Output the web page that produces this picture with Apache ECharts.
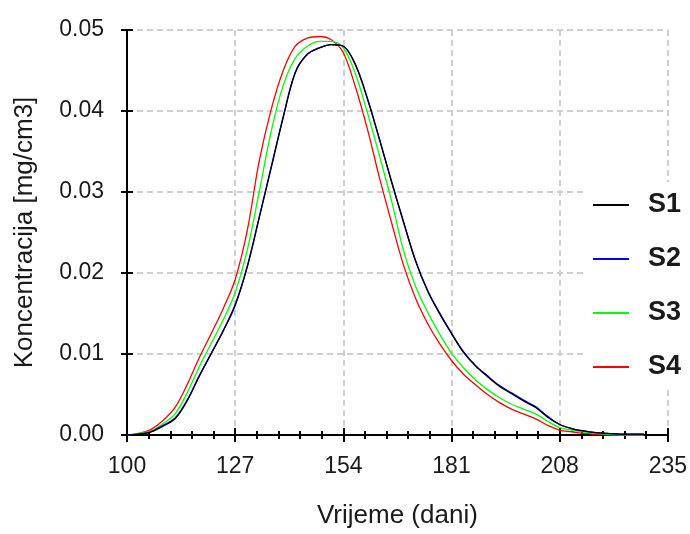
<!DOCTYPE html>
<html>
<head>
<meta charset="utf-8">
<script src="https://cdn.jsdelivr.net/npm/echarts@6/dist/echarts.min.js"></script>
<style>html,body{margin:0;padding:0;background:#fff;}#c{width:690px;height:534px;}</style>
</head>
<body>
<div id="c"></div>
<script>
var days = [100,103,106,109,112,115,118,121,124,127,130,133,136,139,142,145,148,151,154,157,160,163,166,169,172,175,178,181,184,187,190,193,196,199,202,205,208,211,214,217,220,223,226,229];
var s1 = [0,0.0001,0.0004,0.0011,0.0020,0.0042,0.0072,0.0100,0.0128,0.0160,0.0207,0.0268,0.0330,0.0392,0.0447,0.0470,0.0478,0.0482,0.0480,0.0457,0.0415,0.0365,0.0313,0.0263,0.0215,0.0178,0.0150,0.0125,0.0102,0.0085,0.0072,0.0060,0.0051,0.0042,0.0034,0.0022,0.0013,0.0008,0.0005,0.0003,0.0002,0.0001,0.0001,0.0001];
var s2 = [0,0.0001,0.0004,0.0012,0.0021,0.0043,0.0073,0.0101,0.0129,0.0161,0.0208,0.0269,0.0331,0.0393,0.0448,0.0470,0.0478,0.0482,0.0480,0.0458,0.0416,0.0366,0.0314,0.0264,0.0216,0.0179,0.0151,0.0126,0.0103,0.0086,0.0073,0.0061,0.0052,0.0043,0.0035,0.0023,0.0013,0.0008,0.0005,0.0003,0.0002,0.0001,0.0001,0.0001];
var s3 = [0,0.0002,0.0005,0.0014,0.0026,0.0052,0.0084,0.0113,0.0142,0.0176,0.0228,0.0300,0.0375,0.0432,0.0465,0.0480,0.0486,0.0486,0.0478,0.0446,0.0398,0.0345,0.0290,0.0228,0.0184,0.0152,0.0125,0.0101,0.0083,0.0068,0.0056,0.0046,0.0038,0.0032,0.0026,0.0017,0.0009,0.0006,0.0004,0.0002,0.0001,0,0,0];
var s4 = [0,0.0002,0.0007,0.0018,0.0034,0.0062,0.0095,0.0125,0.0156,0.0192,0.0252,0.0338,0.0402,0.0450,0.0480,0.0490,0.0492,0.0488,0.0472,0.0430,0.0378,0.0318,0.0263,0.0210,0.0169,0.0138,0.0113,0.0092,0.0075,0.0062,0.0050,0.0040,0.0032,0.0026,0.0020,0.0012,0.0006,0.0004,0.0002,0.0001,0,0,0,0];
var seriesNames = ['S1','S2','S3','S4'];
var seriesColors = ['#000000','#0000ff','#00ff00','#ff0000'];
var xStart = 100, xEnd = 235, xStep = 27;

var chart = echarts.init(document.getElementById('c'));
function pts(vals){ return days.map(function(d,i){ return [d - xStart, vals[i]]; }); }
var allVals = [s1,s2,s3,s4];
var font = 'Liberation Sans, Arial, sans-serif';
var gridLine = {show:true, lineStyle:{color:'#cfcfcf', width:2, type:[6,4]}};
var xBase = {type:'value', min:0, max:xEnd-xStart, interval:xStep, position:'bottom'};
var yBase = {type:'value', min:0, max:0.05, interval:0.01, position:'left'};
var series = [];
[3,2,1,0].forEach(function(k){
  series.push({
    name: seriesNames[k], type:'line', data: pts(allVals[k]), showSymbol:false, symbol:'none',
    smooth:0.35, lineStyle:{color:seriesColors[k], width:1.3}, itemStyle:{color:seriesColors[k]},
    xAxisIndex:0, yAxisIndex:0, z: 3 + (3-k)
  });
});
chart.setOption({
  animation:false,
  backgroundColor:'#fff',
  grid:{left:127, right:22, top:30, bottom:98, containLabel:false},
  xAxis:[
    Object.assign({}, xBase, {
      name:'Vrijeme (dani)', nameLocation:'middle', nameGap:68,
      nameTextStyle:{fontSize:26, color:'#1a1a1a', fontFamily:font},
      axisLine:{show:true, lineStyle:{color:'#000', width:2}},
      axisTick:{show:true, length:7, lineStyle:{color:'#000', width:2}},
      minorTick:{show:true, splitNumber:5, length:4, lineStyle:{color:'#000', width:2}},
      axisLabel:{fontSize:23, color:'#1a1a1a', fontFamily:font, margin:20, formatter:function(v){return String(v + xStart);}},
      splitLine:gridLine
    }),
    Object.assign({}, xBase, {
      axisLine:{show:false},
      axisTick:{show:true, inside:true, length:7, lineStyle:{color:'#000', width:2}},
      minorTick:{show:true, splitNumber:5, length:4, lineStyle:{color:'#000', width:2}},
      axisLabel:{show:false}, splitLine:{show:false}
    })
  ],
  yAxis:[
    Object.assign({}, yBase, {
      name:'Koncentracija [mg/cm3]', nameLocation:'middle', nameGap:89,
      nameTextStyle:{fontSize:26, color:'#1a1a1a', fontFamily:font},
      axisLine:{show:true, lineStyle:{color:'#000', width:2}},
      axisTick:{show:true, length:6, lineStyle:{color:'#000', width:2}},
      axisLabel:{fontSize:23, color:'#1a1a1a', fontFamily:font, margin:23, formatter:function(v){return v.toFixed(2);}},
      splitLine:gridLine
    }),
    Object.assign({}, yBase, {
      axisLine:{show:false},
      axisTick:{show:true, inside:true, length:6, lineStyle:{color:'#000', width:2}},
      axisLabel:{show:false}, splitLine:{show:false}
    })
  ],
  legend:{
    orient:'vertical', left:583, top:182, padding:[8,10], backgroundColor:'#fff',
    data: seriesNames, icon:'rect', itemWidth:36, itemHeight:2, itemGap:24,
    textStyle:{fontSize:27, fontWeight:'bold', color:'#1a1a1a', fontFamily:font, lineHeight:30, padding:[0,0,0,14]}
  },
  series: series
});
</script>
</body>
</html>
